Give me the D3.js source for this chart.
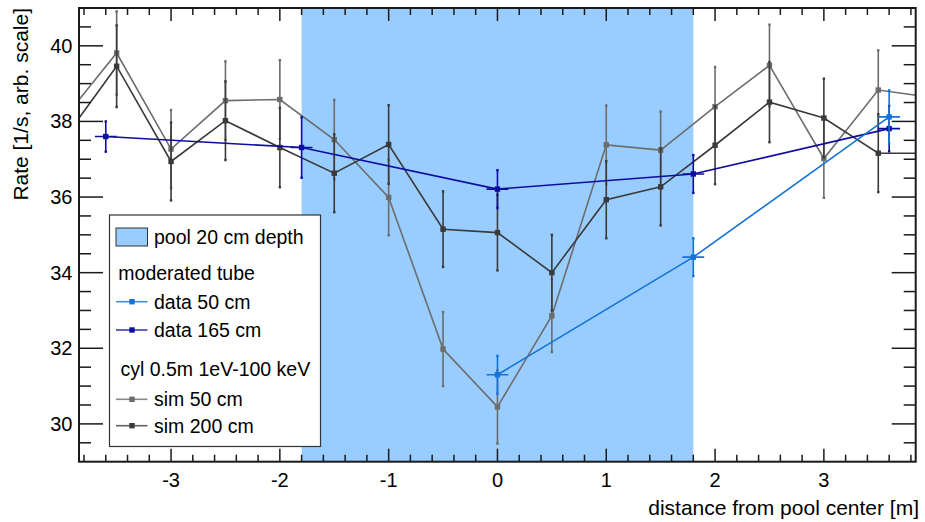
<!DOCTYPE html>
<html><head><meta charset="utf-8">
<script src="https://cdn.jsdelivr.net/npm/d3@7"></script>
<style>html,body{margin:0;padding:0;background:#fff;}svg{display:block;font-family:"Liberation Sans",Arial,Helvetica,sans-serif;}</style>
</head><body>
<svg id="c" width="925" height="522"></svg>
<script>
// ---- data ----
const simX = [-4, -3.5, -3, -2.5, -2, -1.5, -1, -0.5, 0, 0.5, 1, 1.5, 2, 2.5, 3, 3.5, 4];
const sim50 = [38.02, 39.81, 37.27, 38.55, 38.58, 37.52, 35.99, 31.98, 30.45, 32.86, 37.38, 37.24, 38.39, 39.48, 37.02, 38.83, 38.63];
const sim50Err = [1.0, 1.1, 1.03, 1.04, 1.04, 1.05, 1.0, 0.98, 0.97, 0.96, 1.04, 1.02, 1.05, 1.08, 1.04, 1.05, 1.0];
const sim200 = [37.48, 39.46, 36.94, 38.02, 37.31, 36.63, 37.39, 35.15, 35.06, 34.0, 35.93, 36.27, 37.37, 38.51, 38.09, 37.16, 37.16];
const sim200Err = [1.0, 1.08, 1.03, 1.04, 1.05, 1.03, 1.04, 1.0, 1.0, 1.0, 1.02, 1.02, 1.03, 1.06, 1.04, 1.03, 1.0];
const data50X = [0, 1.8, 3.6];
const data50 = [31.3, 34.41, 38.12];
const data50Err = [0.5, 0.5, 0.7];
const data165X = [-3.6, -1.8, 0, 1.8, 3.6];
const data165 = [37.6, 37.31, 36.21, 36.61, 37.81];
const data165Err = [0.4, 0.8, 0.5, 0.5, 0.6];
const dataXErr = 0.1;
const poolRange = [-1.8, 1.8];
const xTicks = [-3, -2, -1, 0, 1, 2, 3];
const yTicks = [30, 32, 34, 36, 38, 40];
const legendItems = [
  {type: "box", label: "pool 20 cm depth"},
  {type: "header", label: "moderated tube"},
  {type: "line", label: "data 50 cm", key: "d50"},
  {type: "line", label: "data 165 cm", key: "d165"},
  {type: "header", label: "cyl 0.5m 1eV-100 keV"},
  {type: "line", label: "sim 50 cm", key: "s50"},
  {type: "line", label: "sim 200 cm", key: "s200"}
];

const colors = {s50: "#6c6c6c", s200: "#3a3a3a", d50: "#1573d8", d165: "#0d0da0", pool: "#99ccff", frame: "#1a1a1a"};

// ---- layout ----
const L = 79, R = 915.7, T = 8, B = 461.7;
const x = d3.scaleLinear().domain([-3.846, 3.844]).range([L, R]);
const y = d3.scaleLinear().domain([29, 41]).range([B, T]);

const svg = d3.select("#c");
svg.append("defs").append("clipPath").attr("id", "clip")
  .append("rect").attr("x", L).attr("y", T).attr("width", R - L).attr("height", B - T);

const plot = svg.append("g").attr("clip-path", "url(#clip)");

// pool shading
plot.append("rect")
  .attr("x", x(poolRange[0])).attr("y", T)
  .attr("width", x(poolRange[1]) - x(poolRange[0])).attr("height", B - T)
  .attr("fill", colors.pool);

const line = d3.line().x(d => x(d[0])).y(d => y(d[1]));

function drawSeries(xs, ys, errs, color, xerr, width) {
  const g = plot.append("g");
  const pts = xs.map((v, i) => [v, ys[i], errs[i]]);
  g.append("path").datum(pts).attr("d", line)
    .attr("fill", "none").attr("stroke", color).attr("stroke-width", width);
  g.selectAll("line.ey").data(pts).join("line")
    .attr("x1", d => x(d[0])).attr("x2", d => x(d[0]))
    .attr("y1", d => y(d[1] + d[2])).attr("y2", d => y(d[1] - d[2]))
    .attr("stroke", color).attr("stroke-width", 1.6);
  g.selectAll("rect.cap").data(pts.flatMap(d => [[d[0], d[1] + d[2]], [d[0], d[1] - d[2]]])).join("rect")
    .attr("x", d => x(d[0]) - 1.2).attr("y", d => y(d[1]) - 1.2).attr("width", 2.4).attr("height", 2.4)
    .attr("fill", color);
  if (xerr) {
    g.selectAll("line.ex").data(pts).join("line")
      .attr("x1", d => x(d[0] - xerr)).attr("x2", d => x(d[0] + xerr))
      .attr("y1", d => y(d[1])).attr("y2", d => y(d[1]))
      .attr("stroke", color).attr("stroke-width", 1.6);
  }
  g.selectAll("rect.m").data(pts).join("rect")
    .attr("x", d => x(d[0]) - 2.7).attr("y", d => y(d[1]) - 2.7)
    .attr("width", 5.4).attr("height", 5.4).attr("fill", color);
}

drawSeries(simX, sim50, sim50Err, colors.s50, 0, 1.6);
drawSeries(simX, sim200, sim200Err, colors.s200, 0, 1.6);
drawSeries(data165X, data165, data165Err, colors.d165, dataXErr, 1.6);
drawSeries(data50X, data50, data50Err, colors.d50, dataXErr, 1.6);

// ---- axes (ticks inside, mirrored) ----
const fr = svg.append("g");
const xMinor = d3.range(-38, 39, 2).map(v => v / 10).filter(v => !xTicks.includes(v));
const yMinor = d3.range(29, 41.01, 0.5).filter(v => !yTicks.includes(v) && v > 29 && v < 41);

function tickLines(arr, fn, len) {
  arr.forEach(v => fn(v, len));
}
const tickStyle = sel => sel.attr("stroke", colors.frame).attr("stroke-width", 1.5);
tickLines(xTicks, (v, l) => {
  fr.append("line").attr("x1", x(v)).attr("x2", x(v)).attr("y1", B).attr("y2", B - l).call(tickStyle);
  fr.append("line").attr("x1", x(v)).attr("x2", x(v)).attr("y1", T).attr("y2", T + l).call(tickStyle);
}, 13);
tickLines(xMinor, (v, l) => {
  fr.append("line").attr("x1", x(v)).attr("x2", x(v)).attr("y1", B).attr("y2", B - l).call(tickStyle);
  fr.append("line").attr("x1", x(v)).attr("x2", x(v)).attr("y1", T).attr("y2", T + l).call(tickStyle);
}, 7);
tickLines(yTicks, (v, l) => {
  fr.append("line").attr("x1", L).attr("x2", L + l).attr("y1", y(v)).attr("y2", y(v)).call(tickStyle);
  fr.append("line").attr("x1", R).attr("x2", R - l).attr("y1", y(v)).attr("y2", y(v)).call(tickStyle);
}, 24);
tickLines(yMinor, (v, l) => {
  fr.append("line").attr("x1", L).attr("x2", L + l).attr("y1", y(v)).attr("y2", y(v)).call(tickStyle);
  fr.append("line").attr("x1", R).attr("x2", R - l).attr("y1", y(v)).attr("y2", y(v)).call(tickStyle);
}, 12);

fr.append("rect").attr("x", L).attr("y", T).attr("width", R - L).attr("height", B - T)
  .attr("fill", "none").attr("stroke", colors.frame).attr("stroke-width", 2);

// tick labels
svg.append("g").selectAll("text").data(xTicks).join("text")
  .attr("x", d => x(d)).attr("y", 487).attr("text-anchor", "middle")
  .attr("font-size", 20).attr("fill", "#000").text(d => d);
svg.append("g").selectAll("text").data(yTicks).join("text")
  .attr("x", 72.5).attr("y", d => y(d) + 7).attr("text-anchor", "end")
  .attr("font-size", 20).attr("fill", "#000").text(d => d);

// axis titles
svg.append("text").attr("x", 919).attr("y", 515).attr("text-anchor", "end")
  .attr("font-size", 21).attr("fill", "#000").text("distance from pool center [m]");
svg.append("text").attr("transform", "translate(28,8) rotate(-90)").attr("text-anchor", "end")
  .attr("font-size", 21).attr("fill", "#000").text("Rate [1/s, arb. scale]");

// ---- legend ----
const lg = svg.append("g");
lg.append("rect").attr("x", 109.5).attr("y", 215).attr("width", 211).attr("height", 231.5)
  .attr("fill", "#fff").attr("stroke", "#333").attr("stroke-width", 1.2);
const rowY = [237, 272.7, 301.7, 330, 369.3, 399.3, 425.7];
legendItems.forEach((it, i) => {
  const cy = rowY[i];
  if (it.type === "box") {
    lg.append("rect").attr("x", 116).attr("y", cy - 9).attr("width", 31.5).attr("height", 18)
      .attr("fill", colors.pool).attr("stroke", "#333").attr("stroke-width", 1);
    lg.append("text").attr("x", 154).attr("y", cy + 7).attr("font-size", 19.5).attr("fill", "#000").text(it.label);
  } else if (it.type === "header") {
    lg.append("text").attr("x", i === 1 ? 118.3 : 120.5).attr("y", cy + 7).attr("font-size", 19.5).attr("fill", "#000").text(it.label);
  } else {
    const c = colors[it.key];
    lg.append("line").attr("x1", 116).attr("x2", 147.5).attr("y1", cy).attr("y2", cy)
      .attr("stroke", c).attr("stroke-width", 1.6).attr("stroke-opacity", 0.8);
    lg.append("rect").attr("x", 132 - 2.7).attr("y", cy - 2.7).attr("width", 5.4).attr("height", 5.4).attr("fill", c);
    lg.append("text").attr("x", 154).attr("y", cy + 7).attr("font-size", 19.5).attr("fill", "#000").text(it.label);
  }
});
</script>
</body></html>
